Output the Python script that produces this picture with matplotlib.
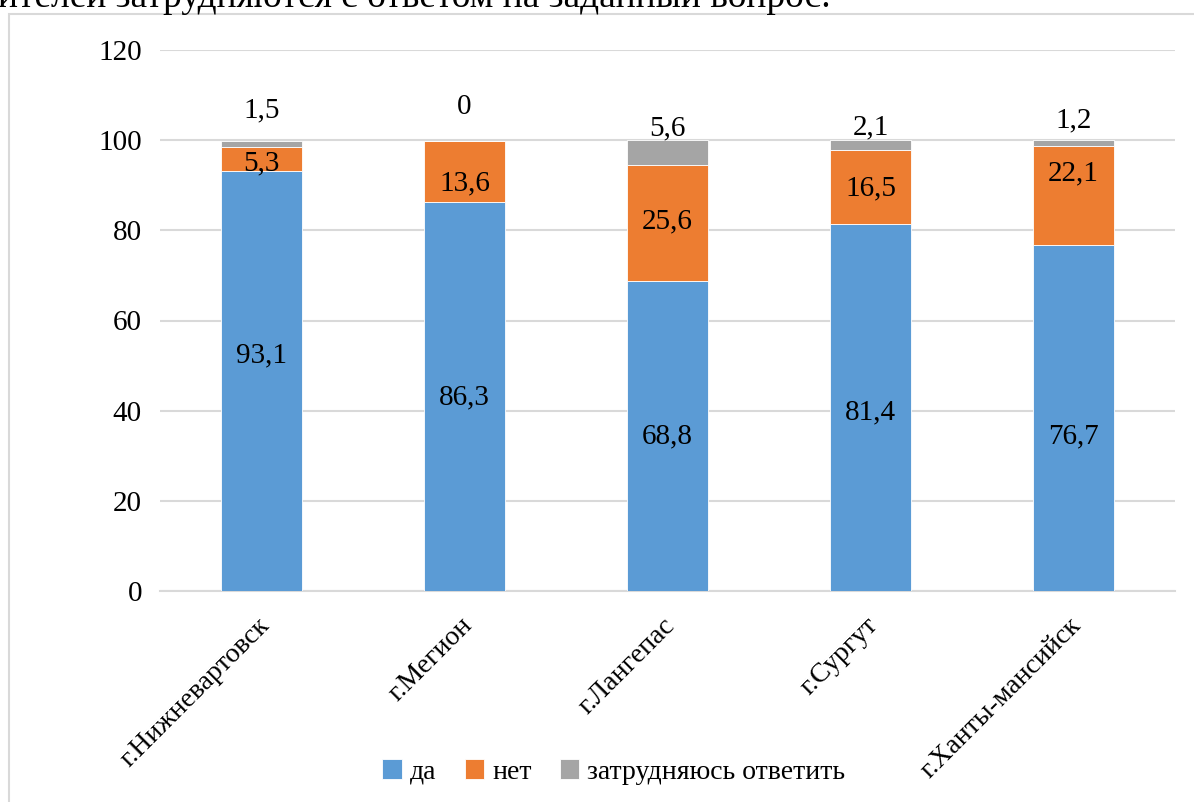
import numpy as np
import matplotlib as mpl
mpl.use('Agg')
import matplotlib.pyplot as plt
from matplotlib.patches import Rectangle
import matplotlib.transforms as mtransforms

mpl.rcParams['font.family'] = ['Liberation Serif', 'DejaVu Serif']

cities = ["г.Нижневартовск", "г.Мегион", "г.Лангепас", "г.Сургут", "г.Ханты-мансийск"]
yes = [93.1, 86.3, 68.8, 81.4, 76.7]
no = [5.3, 13.6, 25.6, 16.5, 22.1]
unsure = [1.5, 0, 5.6, 2.1, 1.2]
labels_yes = ["93,1", "86,3", "68,8", "81,4", "76,7"]
labels_no = ["5,3", "13,6", "25,6", "16,5", "22,1"]
labels_unsure = ["1,5", "0", "5,6", "2,1", "1,2"]

# where the labels sit (moved by hand in the original)
pos_yes = [52.3, 43.0, 34.2, 39.7, 34.2]
pos_no = [94.9, 90.5, 81.9, 89.4, 92.7]
pos_unsure = [106.7, 107.4, 102.7, 102.9, 104.5]

colors = ["#5b9bd5", "#ed7d31", "#a5a5a5"]

fig = plt.figure(figsize=(11.94, 8.02), dpi=100)
ax = fig.add_axes([160/1194, 1 - 591/802, 1015/1194, 541/802])

x = np.arange(len(cities))
w = 0.40
yes_a = np.array(yes)
no_a = np.array(no)
ax.bar(x, yes_a, w, color=colors[0], edgecolor='white', linewidth=0.6, label="да", zorder=3)
ax.bar(x, no_a, w, bottom=yes_a, color=colors[1], edgecolor='white', linewidth=0.6, label="нет", zorder=3)
ax.bar(x, unsure, w, bottom=yes_a + no_a, color=colors[2], edgecolor='white', linewidth=0.6,
       label="затрудняюсь ответить", zorder=3)

for i in range(len(cities)):
    ax.text(x[i], pos_yes[i], labels_yes[i], ha='center', va='center', fontsize=21, zorder=4)
    ax.text(x[i], pos_no[i], labels_no[i], ha='center', va='center', fontsize=21, zorder=4)
    ax.text(x[i], pos_unsure[i], labels_unsure[i], ha='center', va='center', fontsize=21, zorder=4)

ax.set_xlim(-0.5, len(cities) - 0.5)
ax.set_ylim(0, 120)
ax.set_yticks(np.arange(0, 121, 20))
ax.tick_params(axis='y', length=0, pad=13, labelsize=21)
ax.tick_params(axis='x', length=0)
ax.yaxis.grid(True, color='#d9d9d9', linewidth=1.5, zorder=0)
ax.set_axisbelow(True)
for s in ['top', 'right', 'left']:
    ax.spines[s].set_visible(False)
ax.spines['bottom'].set_color('#d9d9d9')
ax.spines['bottom'].set_linewidth(1.5)

ax.set_xticks(x)
ax.set_xticklabels(cities, rotation=45, ha='right', va='center', rotation_mode='anchor', fontsize=20)
offset = mtransforms.ScaledTranslation(0.04, -0.26, fig.dpi_scale_trans)
for lbl in ax.get_xticklabels():
    lbl.set_transform(lbl.get_transform() + offset)

ax.legend(loc='center', bbox_to_anchor=(614/1194, 1 - 772/802), bbox_transform=fig.transFigure,
          ncol=3, frameon=False, fontsize=20, handlelength=0.7, handleheight=0.7,
          handletextpad=0.3, columnspacing=1.0)

# chart frame
fig.patches.append(Rectangle((9/1194, -0.05), 1.1, 1 - 14/802 + 0.05, transform=fig.transFigure,
                             fill=False, edgecolor='#d9d9d9', linewidth=1.5))

# cut-off sentence above the chart
fig.text(-2/1194, 1 - 7/802, "ителей затрудняются с ответом на заданный вопрос.",
         fontsize=27, ha='left', va='baseline')

plt.savefig("out.png", dpi=100)
